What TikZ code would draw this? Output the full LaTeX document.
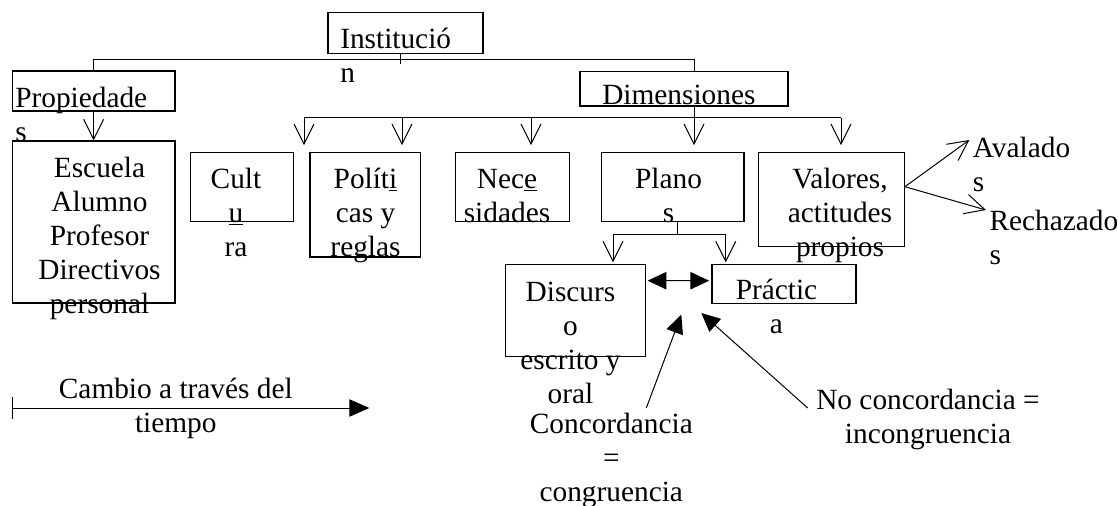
\documentclass[tikz,border=0pt]{standalone}
\usepackage{fontspec}
\setmainfont{Liberation Serif}
\usetikzlibrary{arrows.meta,fit,calc}
\begin{document}
\begin{tikzpicture}[x=0.75pt,y=-0.75pt,
 box/.style={draw, line width=0.9pt, inner sep=0pt},
 lbl/.style={inner sep=0pt, anchor=north, align=center, font=\fontsize{22}{25.5}\selectfont},
 lbll/.style={lbl, anchor=north west, align=left},
 conn/.style={line width=0.75pt},
 openarr/.style={conn, -{Straight Barb[length=15pt,width=15pt]}},
 solidarr/.style={conn, -{Triangle[length=14pt,width=13pt]}},
 dblarr/.style={conn, {Triangle[length=14pt,width=13pt]}-{Triangle[length=14pt,width=13pt]}},
]
\useasboundingbox (0,0) rectangle (1118,506);

% boxes
\node[box, fit={(328,12.7)(483,53.3)}] (inst) {};
\node[box, fit={(12.3,71)(175,111)}] (prop) {};
\node[box, fit={(12.3,141)(175,303)}] (esc) {};
\node[box, fit={(580,71.7)(788,106)}] (dim) {};
\node[box, fit={(190.7,152.7)(293.3,221.7)}] (cult) {};
\node[box, fit={(310,152.7)(420.3,257)}] (pol) {};
\node[box, fit={(455.7,152.7)(569.7,221.7)}] (nec) {};
\node[box, fit={(601.7,152.7)(744,221.7)}] (plan) {};
\node[box, fit={(758.7,152.7)(904.3,246.7)}] (val) {};
\node[box, fit={(505.7,264.7)(645.7,356.3)}] (disc) {};
\node[box, fit={(712,264.7)(856,303.7)}] (prac) {};

% texts
\node[lbll] (tinst) at (340,24.2) {\strut Institució\\\strut n};
\node[lbll] (tprop) at (15,83.2) {\strut Propiedade\\\strut s};
\node[lbll] (tdim) at (602,80.2) {\strut Dimensiones};
\node[lbl] (tesc) at (99.5,153.2) {\strut Escuela\\\strut Alumno\\\strut Profesor\\\strut Directivos\\\strut personal};
\node[lbl] (tcult) at (236,164.2) {\strut Cult\\\strut\underline{u}\\\strut ra};
\node[lbl] (tpol) at (365.5,164.2) {\strut Polít\underline{i}\\\strut cas y\\\strut reglas};
\node[lbl] (tnec) at (507,164.2) {\strut Nec\underline{e}\\\strut sidades};
\node[lbl] (tplan) at (668.5,164.2) {\strut Plano\\\strut s};
\node[lbl] (tval) at (840,164.2) {\strut Valores,\\\strut actitudes\\\strut propios};
\node[lbll] (taval) at (972.7,133.2) {\strut Avalado\\\strut s};
\node[lbll] (trech) at (989.3,206.2) {\strut Rechazado\\\strut s};
\node[lbl] (tdisc) at (570.5,277.5) {\strut Discurs\\\strut o\\\strut escrito y\\\strut oral};
\node[lbl] (tprac) at (776.5,275.9) {\strut Práctic\\\strut a};
\node[lbl] (tconc) at (611.3,409.2) {\strut Concordancia\\\strut =\\\strut congruencia};
\node[lbl] (tnoc) at (928,385.9) {\strut No concordancia =\\\strut incongruencia};
\node[lbl] (tcamb) at (175.8,374.2) {\strut Cambio a través del\\\strut tiempo};

% top tree
\coordinate (jI) at (400,59.3);
\coordinate (jL) at (93.3,59.3);
\coordinate (jR) at (694,59.3);
\draw[conn] (inst.south -| jI) -- ($(jI)+(0,4.5)$);
\draw[conn] (prop.north -| jL) -- (jL) -- (jR) -- (dim.north -| jR);
\draw[openarr] (prop.south) -- (esc.north);

% dimensiones tree
\coordinate (dL) at (304,117.7);
\coordinate (dP) at (402,117.7);
\coordinate (dN) at (531,117.7);
\coordinate (dM) at (694,117.7);
\coordinate (dR) at (841,117.7);
\draw[conn] (dim.south -| dM) -- (dM);
\draw[conn] (dL) -- (dR);
\draw[openarr, shorten >=5.25pt] (dL) -- (dL |- cult.north);
\draw[openarr, shorten >=5.25pt] (dP) -- (dP |- pol.north);
\draw[openarr, shorten >=5.25pt] (dN) -- (dN |- nec.north);
\draw[openarr, shorten >=5.25pt] (dM) -- (dM |- plan.north);
\draw[openarr, shorten >=5.25pt] (dR) -- (dR |- val.north);

% planos tree
\coordinate (pM) at (677.3,234.3);
\coordinate (pL) at (613,234.3);
\coordinate (pR) at (725.7,234.3);
\draw[conn] (plan.south -| pM) -- (pM);
\draw[conn] (pL) -- (pR);
\draw[openarr, shorten >=1.3pt] (pL) -- (pL |- disc.north);
\draw[openarr, shorten >=1.3pt] (pR) -- (pR |- prac.north);

% valores arrows
\coordinate (vS) at ($(val.north east)+(0,34.6)$);
\coordinate (aT) at (969.3,140);
\coordinate (rT) at (986,210);
\draw[openarr] (vS) -- (aT);
\draw[openarr] (vS) -- (rT);

% discurso <-> practica
\coordinate (dA) at ($(disc.north east)+(1.3,16.6)$);
\coordinate (dB) at ($(prac.north west)+(-2.3,16.6)$);
\draw[dblarr] (dA) -- (dB);

% concordancia arrows
\coordinate (cS) at (646.3,408);
\coordinate (cT) at (681.3,314.7);
\draw[solidarr] (cS) -- (cT);
\coordinate (nS) at (807.7,408);
\coordinate (nT) at (701.3,313);
\draw[solidarr] (nS) -- (nT);

% time arrow
\coordinate (tA) at (12.3,408);
\coordinate (tB) at (369.3,408);
\draw[conn, {Bar[width=17pt]}-{Triangle[length=15pt,width=13pt]}] (tA) -- (tB);
\end{tikzpicture}
\end{document}
